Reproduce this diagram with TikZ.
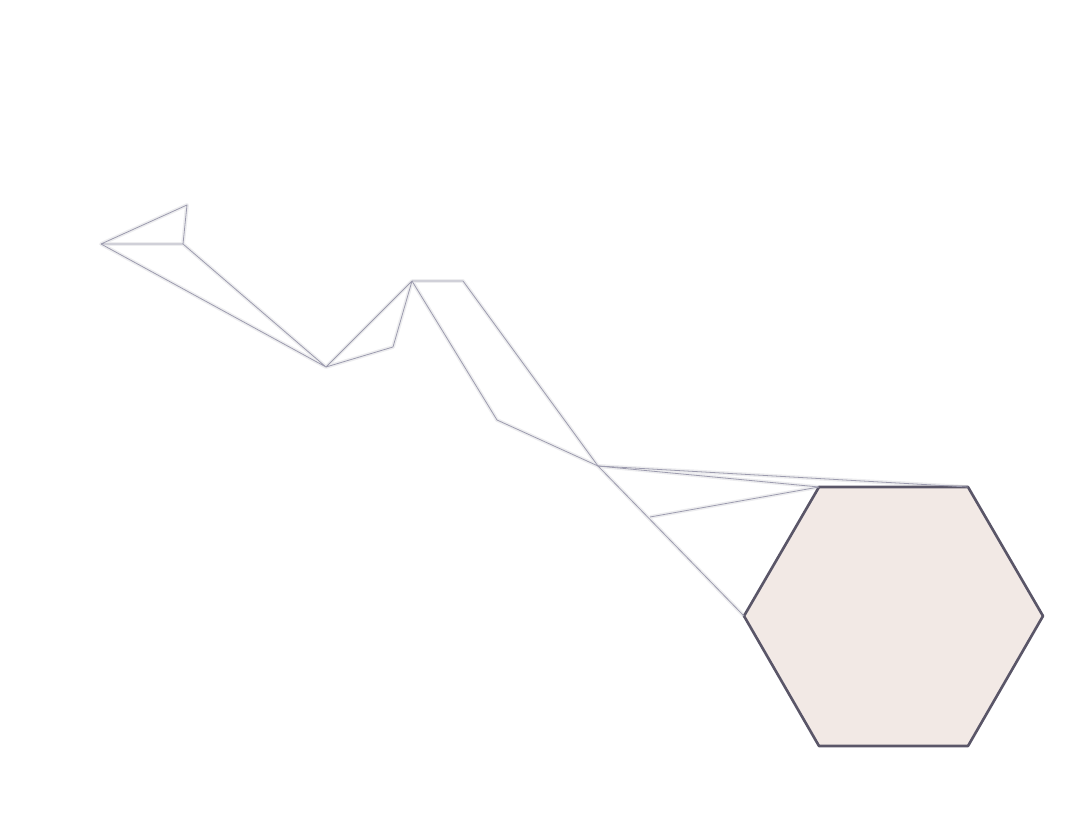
\documentclass[tikz,border=0pt]{standalone}
\usepackage{xcolor}
\usepackage{tikz}
\usetikzlibrary{calc}

\definecolor{edgegrey}{HTML}{9C9BAE}
\definecolor{hexline}{HTML}{5A5668}
\definecolor{hexfill}{HTML}{F2E9E5}
\definecolor{shade}{HTML}{EDEDEF}

\begin{document}
\begin{tikzpicture}[
  x=0.02cm, y=-0.02cm,
  edge/.style={draw=edgegrey, line width=0.45pt, line join=round},
  shadowedge/.style={draw=shade, line width=2.2pt, line join=round},
  hexa/.style={draw=hexline, fill=hexfill, line width=1.5pt, line join=round}
]
\useasboundingbox (0,0) rectangle (1069,824);

% points of the chain
\coordinate (tipl) at (101,244);
\coordinate (tipu) at (187,205);
\coordinate (tipr) at (183,244);
\coordinate (low) at (326,367);
\coordinate (knee) at (393,347);
\coordinate (top) at (412,281);
\coordinate (topr) at (463,281);
\coordinate (dip) at (497,420);
\coordinate (mid) at (598,466);
\coordinate (foot) at (650,517);

% hexagon corners
\coordinate (hl) at (744,616);
\coordinate (htl) at (819,487);
\coordinate (htr) at (968,487);
\coordinate (hr) at (1043,616);
\coordinate (hbr) at (968,746);
\coordinate (hbl) at (819,746);

% soft shadow
\begin{scope}[shift={(2,3)}]
\draw[shadowedge] (tipl) -- (tipu) -- (tipr) -- cycle;
\draw[shadowedge] (tipr) -- (low) -- (tipl);
\draw[shadowedge] (low) -- (top) -- (knee) -- (low);
\draw[shadowedge] (top) -- (topr) -- (mid);
\draw[shadowedge] (top) -- (dip) -- (mid);
\draw[shadowedge] (mid) -- (hl);
\draw[shadowedge] (mid) -- (htl);
\draw[shadowedge] (mid) -- (htr);
\draw[shadowedge] (foot) -- (htl);
\end{scope}

\draw[hexa] (htl) -- (htr) -- (hr) -- (hbr) -- (hbl) -- (hl) -- cycle;

\draw[edge] (tipl) -- (tipu) -- (tipr) -- cycle;
\draw[edge] (tipr) -- (low) -- (tipl);
\draw[edge] (low) -- (top) -- (knee) -- (low);
\draw[edge] (top) -- (topr) -- (mid);
\draw[edge] (top) -- (dip) -- (mid);
\draw[edge] (mid) -- (hl);
\draw[edge] (mid) -- (htl);
\draw[edge] (mid) -- (htr);
\draw[edge] (foot) -- (htl);
\end{tikzpicture}
\end{document}
